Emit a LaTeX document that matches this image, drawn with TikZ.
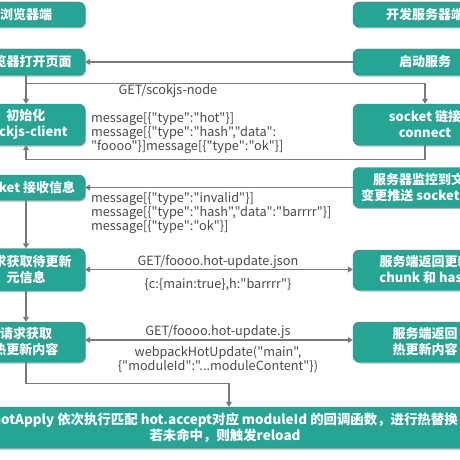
\documentclass[tikz,border=0pt]{standalone}
\usepackage{fontspec}
\setmainfont{Noto Sans CJK SC}[Ligatures=TeXOff]
\usetikzlibrary{positioning,shadows,arrows.meta}
\definecolor{boxteal}{HTML}{27A594}
\definecolor{boxedge}{HTML}{1F8C7F}
\definecolor{linegray}{HTML}{7A7A7A}
\definecolor{textgray}{HTML}{4A4A4A}
\tikzset{>={Triangle[length=5pt,width=6pt]}}
\tikzset{
  stepbox/.style={draw=boxedge, fill=boxteal, rounded corners=6pt, text=white,
    align=center, inner sep=1pt, font=\fontsize{13}{16}\selectfont\bfseries,
    drop shadow={shadow xshift=1pt, shadow yshift=-1.5pt, fill=black, opacity=0.3}},
  flow/.style={draw=linegray, line width=1.4pt},
  lbl/.style={text=textgray, inner sep=0pt, font=\fontsize{12.7}{14}\selectfont}
}
\newcommand\qq{\char"22\relax}

\begin{document}
\begin{tikzpicture}[x=1pt,y=-1pt]
\useasboundingbox (0,0) rectangle (460,460);
\clip (0,0) rectangle (460,460);
%%%% columns
\node[stepbox, minimum width=118, minimum height=25] (browser) at (26,14.5) {浏览器端};
\node[stepbox, minimum width=144, minimum height=25] (server) at (425,14.5) {开发服务器端};
%%%% rows
\node[stepbox, minimum width=118, minimum height=26] (open) at (26,62) {浏览器打开页面};
\node[stepbox, minimum width=144, minimum height=26] (start) at (425,62) {启动服务};
\node[stepbox, minimum width=118, minimum height=41] (init) at (26,124.5) {初始化\\sockjs-client};
\node[stepbox, minimum width=144, minimum height=41] (connect) at (425,124.5) {socket 链接\\connect};
\node[stepbox, minimum width=118, minimum height=25] (recv) at (26,187.5) {socket 接收信息};
\node[stepbox, minimum width=144, minimum height=40] (watch) at (425,187.5) {服务器监控到文件\\变更推送 socket 信息};
\node[stepbox, minimum width=118, minimum height=42] (manifest) at (26,269.5) {请求获取待更新\\元信息};
\node[stepbox, minimum width=144, minimum height=40] (chunk) at (425,270) {服务端返回更新\\chunk 和 hash};
\node[stepbox, minimum width=118, minimum height=40] (fetch) at (26,342) {请求获取\\热更新内容};
\node[stepbox, minimum width=144, minimum height=40] (reply) at (425,342) {服务端返回\\热更新内容};
\node[stepbox, minimum width=520, minimum height=41, font=\fontsize{13.4}{16.5}\selectfont\bfseries] (apply) at (225,427.5)
  {hotApply 依次执行匹配 hot.accept对应 moduleId 的回调函数，进行热替换\\若未命中，则触发reload};
%%%% connectors
\draw[flow,->] (start.west) -- (open.east);
\draw[flow,->] (open.south) -- (init.north);
\draw[flow,->] (open.south) ++(0,8) -| (connect.north);
\draw[flow,->] (connect.south) -- ++(0,14) -| (init.south);
\draw[flow,->] (watch.west) -- (recv.east);
\draw[flow,->] (recv.south) -- (manifest.north);
\draw[flow,<->] (manifest.east) -- (chunk.west |- manifest.east);
\draw[flow,->] (manifest.south) -- (fetch.north);
\draw[flow,<->] ([yshift=2pt]fetch.east) -- ([yshift=2pt]reply.west);
\draw[flow,->] (fetch.south) -- ++(0,21) -| ([xshift=4pt]apply.north);
%%%% labels
\node[lbl] (getsock) at (168,91) {GET/scokjs-node};
\node[lbl, align=left, anchor=west] (msgsa) at (91,133.5)
  {message[\{\qq type\qq:\qq hot\qq\}]\\message[\{\qq type\qq:\qq hash\qq,\qq data\qq:\\\qq foooo\qq\}]message[\{\qq type\qq:\qq ok\qq\}]};
\node[lbl, align=left, anchor=west] (msgsb) at (91,213)
  {message[\{\qq type\qq:\qq invalid\qq\}]\\message[\{\qq type\qq:\qq hash\qq,\qq data\qq:\qq barrrr\qq\}]\\message[\{\qq type\qq:\qq ok\qq\}]};
\node[lbl] (getjson) at (218,262) {GET/foooo.hot-update.json};
\node[lbl] (hashres) at (218,285) {\{c:\{main:true\},h:\qq barrrr\qq\}};
\node[lbl] (getjs) at (218,332) {GET/foooo.hot-update.js};
\node[lbl, align=center] (jsres) at (218,360)
  {webpackHotUpdate(\qq main\qq,\\\{\qq moduleId\qq:\qq...moduleContent\qq\})};
\end{tikzpicture}
\end{document}
